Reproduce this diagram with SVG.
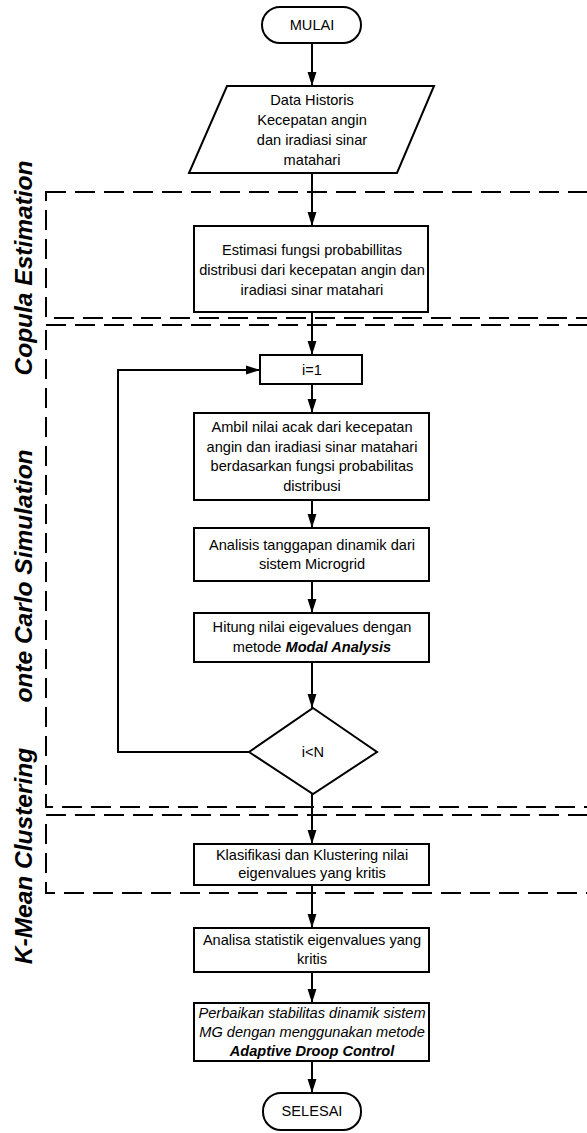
<svg xmlns="http://www.w3.org/2000/svg" width="587" height="1133" viewBox="0 0 587 1133">
<style>
text{font-family:"Liberation Sans",Arial,sans-serif;font-size:14.6px;fill:#000;text-anchor:middle}
.box{fill:#fff;stroke:#000;stroke-width:2}
.zone{fill:none;stroke:#000;stroke-width:2;stroke-dasharray:20 9}
.lbl{font-size:24.5px;font-weight:bold;font-style:italic}
.con{fill:none;stroke:#000;stroke-width:2}
.bi{font-weight:bold;font-style:italic}
.it{font-style:italic}
</style>
<defs>
<marker id="ah" markerWidth="14" markerHeight="22" refX="22" refY="7" orient="auto" markerUnits="userSpaceOnUse" viewBox="0 0 22 14">
<path d="M0,0 L22,7 L0,14 Z" fill="#000"/>
</marker>
</defs>
<g id="zones">
<rect class="zone" x="46" y="192" width="560" height="126"/>
<rect class="zone" x="46" y="325" width="560" height="482"/>
<rect class="zone" x="46" y="815" width="560" height="78"/>
<text class="lbl" transform="translate(32,268) rotate(-90)">Copula Estimation</text>
<text class="lbl" transform="translate(32,576) rotate(-90)">onte Carlo Simulation</text>
<text class="lbl" transform="translate(32,856) rotate(-90)">K-Mean Clustering</text>
</g>
<g id="connectors">
<line class="con" x1="312" y1="43" x2="312" y2="86" marker-end="url(#ah)"/>
<line class="con" x1="312" y1="173" x2="312" y2="226" marker-end="url(#ah)"/>
<line class="con" x1="312" y1="312" x2="312" y2="355" marker-end="url(#ah)"/>
<line class="con" x1="312" y1="384" x2="312" y2="413" marker-end="url(#ah)"/>
<line class="con" x1="312" y1="500" x2="312" y2="528" marker-end="url(#ah)"/>
<line class="con" x1="312" y1="581" x2="312" y2="613" marker-end="url(#ah)"/>
<line class="con" x1="312" y1="662" x2="312" y2="708" marker-end="url(#ah)"/>
<line class="con" x1="312" y1="794" x2="312" y2="844" marker-end="url(#ah)"/>
<line class="con" x1="312" y1="885" x2="312" y2="928" marker-end="url(#ah)"/>
<line class="con" x1="312" y1="972" x2="312" y2="1003" marker-end="url(#ah)"/>
<line class="con" x1="312" y1="1061" x2="312" y2="1093" marker-end="url(#ah)"/>
<polyline class="con" points="249,752 118,752 118,370 260,370" marker-end="url(#ah)"/>
</g>
<g id="mulai">
<rect class="box" x="262" y="7" width="99" height="36" rx="18"/>
<text x="312" y="30">MULAI</text>
</g>
<g id="data">
<polygon class="box" points="227,86 434,86 397,173 189,173"/>
<text x="312" y="105">Data Historis</text>
<text x="312" y="125">Kecepatan angin</text>
<text x="312" y="145">dan iradiasi sinar</text>
<text x="312" y="165">matahari</text>
</g>
<g id="estimasi">
<rect class="box" x="194" y="226" width="234" height="86"/>
<text x="312" y="255">Estimasi fungsi probabillitas</text>
<text x="312" y="275">distribusi dari kecepatan angin dan</text>
<text x="312" y="295">iradiasi sinar matahari</text>
</g>
<g id="init">
<rect class="box" x="260" y="355" width="102" height="29"/>
<text x="312" y="375">i=1</text>
</g>
<g id="ambil">
<rect class="box" x="194" y="413" width="235" height="87"/>
<text x="312" y="432">Ambil nilai acak dari kecepatan</text>
<text x="312" y="452">angin dan iradiasi sinar matahari</text>
<text x="312" y="471">berdasarkan fungsi probabilitas</text>
<text x="312" y="491">distribusi</text>
</g>
<g id="analisis">
<rect class="box" x="194" y="528" width="235" height="53"/>
<text x="312" y="550">Analisis tanggapan dinamik dari</text>
<text x="312" y="569">sistem Microgrid</text>
</g>
<g id="hitung">
<rect class="box" x="194" y="613" width="235" height="49"/>
<text x="312" y="632">Hitung nilai eigevalues dengan</text>
<text x="312" y="652">metode <tspan class="bi">Modal Analysis</tspan></text>
</g>
<g id="decision">
<polygon class="box" points="313,708 377,752 313,794 249,752"/>
<text x="313" y="757">i&lt;N</text>
</g>
<g id="klasifikasi">
<rect class="box" x="194" y="844" width="235" height="41"/>
<text x="312" y="860">Klasifikasi dan Klustering nilai</text>
<text x="312" y="878">eigenvalues yang kritis</text>
</g>
<g id="analisa">
<rect class="box" x="194" y="928" width="235" height="44"/>
<text x="312" y="945">Analisa statistik eigenvalues yang</text>
<text x="312" y="964">kritis</text>
</g>
<g id="perbaikan">
<rect class="box" x="194" y="1003" width="235" height="58"/>
<text class="it" x="312" y="1018">Perbaikan stabilitas dinamik sistem</text>
<text class="it" x="312" y="1037">MG dengan menggunakan metode</text>
<text class="bi" x="312" y="1056">Adaptive Droop Control</text>
</g>
<g id="selesai">
<rect class="box" x="263" y="1093" width="98" height="37" rx="18"/>
<text x="312" y="1116">SELESAI</text>
</g>
</svg>
